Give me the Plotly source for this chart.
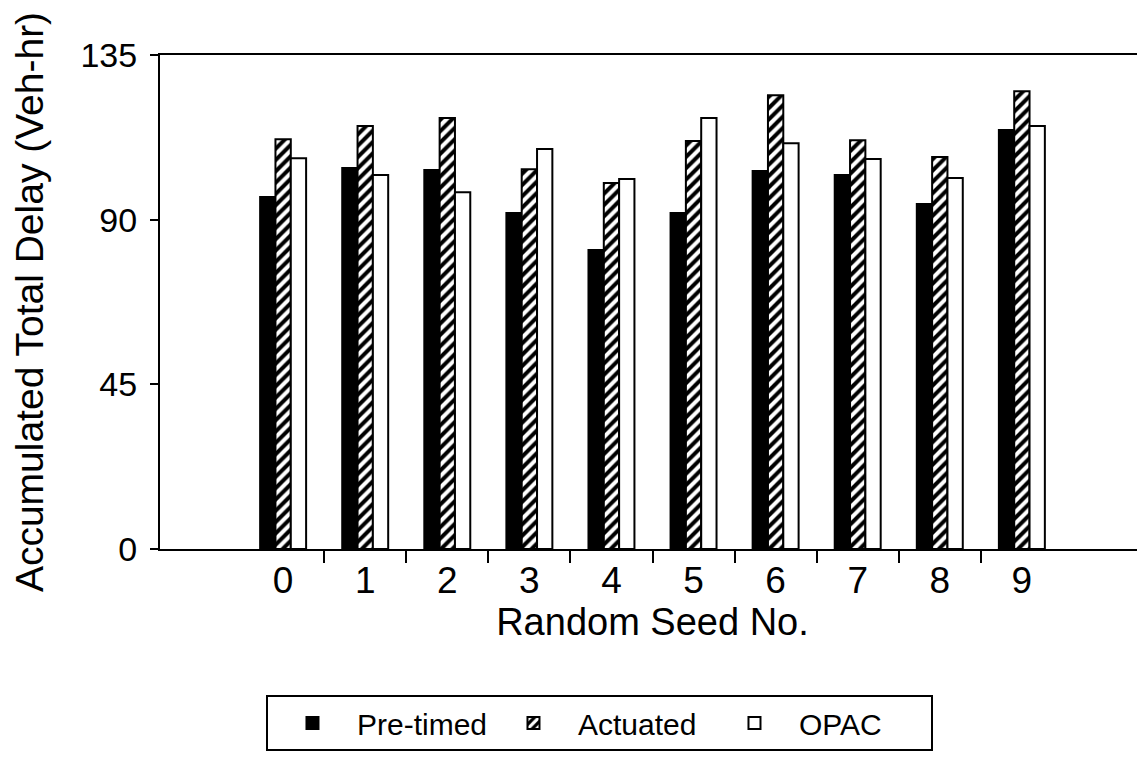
import plotly.graph_objects as go

# ---- data ----
seeds = list(range(10))
seed_labels = [str(s) for s in seeds]
pretimed = [96.2, 104.1, 103.6, 91.8, 81.7, 91.8, 103.3, 102.2, 94.3, 114.5]
actuated = [112.0, 115.6, 117.8, 103.8, 100.0, 111.5, 124.0, 111.7, 107.1, 125.1]
opac = [106.8, 102.2, 97.5, 109.3, 101.1, 117.8, 110.9, 106.6, 101.4, 115.6]
y_ticks = [0, 45, 90, 135]

FONT = "Liberation Sans, Arial, Helvetica, sans-serif"

fig = go.Figure()
fig.add_bar(x=seeds, y=pretimed, name="Pre-timed",
            marker=dict(color="black", line=dict(color="black", width=2)))
fig.add_bar(x=seeds, y=actuated, name="Actuated",
            marker=dict(color="black", line=dict(color="black", width=2),
                        pattern=dict(shape="/", fgcolor="white", bgcolor="black",
                                     size=8, solidity=0.5, fillmode="replace")))
fig.add_bar(x=seeds, y=opac, name="OPAC",
            marker=dict(color="white", line=dict(color="black", width=2)))

boundaries = [s + 0.5 for s in seeds[:-1]]

# page body has an 8px margin, so the figure is 8px smaller than the window
fig.update_layout(
    width=1137, height=752,
    margin=dict(l=152, r=0, t=47, b=211),
    paper_bgcolor="white", plot_bgcolor="white",
    font=dict(family=FONT, color="black"),
    barmode="group", bargap=0.44, bargroupgap=0,
    showlegend=True,
    legend=dict(orientation="h", x=0.1076, y=-0.2955, xanchor="left", yanchor="top",
                bordercolor="black", borderwidth=2, font=dict(size=30),
                traceorder="normal", itemwidth=79, entrywidth=127),
    xaxis=dict(range=[-1.5, 10.5], tickmode="array", tickvals=seeds, ticktext=seed_labels,
               ticks="", showline=True, linewidth=2, linecolor="black", mirror=True,
               showgrid=False, zeroline=False, tickfont=dict(size=37),
               ticklabelstandoff=-2,
               title=dict(text="Random Seed No.", font=dict(size=38), standoff=2),
               minor=dict(tickmode="array", tickvals=boundaries, ticks="outside", ticklen=12,
                          tickwidth=2, tickcolor="black", showgrid=False)),
    yaxis=dict(range=[0, 135], tickmode="array", tickvals=y_ticks,
               ticks="outside", ticklen=8, tickwidth=2, tickcolor="black",
               showline=True, linewidth=2, linecolor="black", mirror=False,
               showgrid=False, zeroline=False, tickfont=dict(size=34),
               ticklabelstandoff=6,
               title=dict(text="Accumulated Total Delay (Veh-hr)", font=dict(size=39), standoff=33)),
)

fig.write_html("out.html")
